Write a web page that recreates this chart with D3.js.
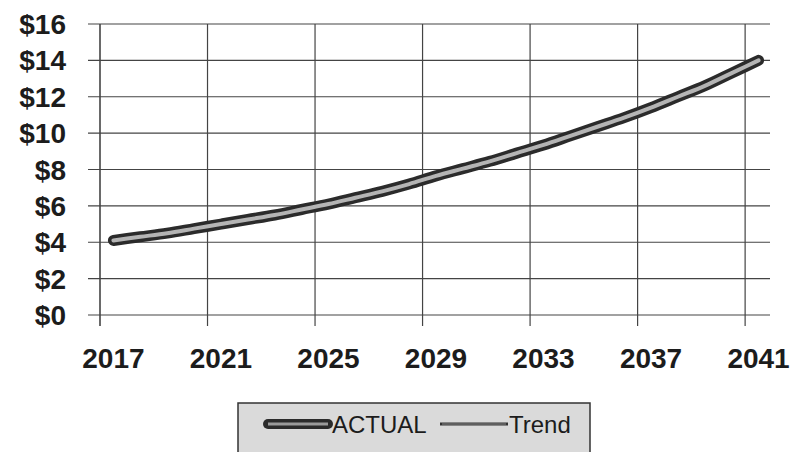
<!DOCTYPE html>
<html>
<head>
<meta charset="utf-8">
<script src="https://cdn.jsdelivr.net/npm/d3@7"></script>
<style>
  html, body { margin: 0; padding: 0; background: #fff; }
  svg { display: block; }
</style>
</head>
<body>
<div id="chart"></div>
<script>
// Données
const annees = d3.range(2017, 2042).map(String);
const valeurs = [4.10, 4.30, 4.50, 4.75, 5.00, 5.25, 5.50, 5.80, 6.10, 6.45,
                 6.80, 7.20, 7.65, 8.05, 8.45, 8.90, 9.35, 9.85, 10.35, 10.85,
                 11.40, 12.00, 12.60, 13.30, 14.00];
const ticksY = [0, 2, 4, 6, 8, 10, 12, 14, 16];
const anneesAffichees = ["2017", "2021", "2025", "2029", "2033", "2037", "2041"];
const series = ["ACTUAL", "Trend"];

const largeur = 792;
const hauteur = 452;
const marge = {haut: 24, droite: 20, bas: 137, gauche: 100};

const svg = d3.select('#chart')
    .append('svg')
    .attr('width', largeur)
    .attr('height', hauteur)
    .style('font-family', '"Liberation Sans", Arial, sans-serif');

// Échelles
const x = d3.scaleBand()
    .domain(annees)
    .range([marge.gauche, 772]);

const y = d3.scaleLinear()
    .domain([0, 16])
    .range([hauteur - marge.bas, marge.haut]); // 315 -> 24

const couleurGrille = "#444";

// Grille horizontale + petites graduations à gauche
svg.append("g")
    .selectAll("line")
    .data(ticksY)
    .enter()
    .append("line")
    .attr("x1", marge.gauche - 12)
    .attr("x2", 770)
    .attr("y1", d => y(d))
    .attr("y2", d => y(d))
    .attr("stroke", couleurGrille)
    .attr("stroke-width", 1.2);

// Grille verticale (au début de chaque 4e catégorie), prolongée sous l'axe
svg.append("g")
    .selectAll("line")
    .data(anneesAffichees)
    .enter()
    .append("line")
    .attr("x1", d => x(d))
    .attr("x2", d => x(d))
    .attr("y1", y(16))
    .attr("y2", y(0) + 11)
    .attr("stroke", couleurGrille)
    .attr("stroke-width", d => d === "2017" ? 1.6 : 1.2);

// Libellés de l'axe Y
svg.append("g")
    .selectAll("text")
    .data(ticksY)
    .enter()
    .append("text")
    .attr("x", 66)
    .attr("y", d => y(d))
    .attr("dy", "0.36em")
    .attr("text-anchor", "end")
    .attr("font-size", 28)
    .attr("font-weight", "bold")
    .attr("fill", "#1c1c1c")
    .text(d => "$" + d);

// Libellés de l'axe X
svg.append("g")
    .selectAll("text")
    .data(anneesAffichees)
    .enter()
    .append("text")
    .attr("x", d => x(d) + x.bandwidth() / 2)
    .attr("y", 368)
    .attr("text-anchor", "middle")
    .attr("font-size", 28)
    .attr("font-weight", "bold")
    .attr("fill", "#1c1c1c")
    .text(d => d);

// Courbe
const ligne = d3.line()
    .x((d, i) => x(annees[i]) + x.bandwidth() / 2)
    .y(d => y(d))
    .curve(d3.curveMonotoneX);

svg.append("path")
    .datum(valeurs)
    .attr("d", ligne)
    .attr("fill", "none")
    .attr("stroke", "#2b2b2b")
    .attr("stroke-width", 11)
    .attr("stroke-linecap", "round")
    .attr("stroke-linejoin", "round");

svg.append("path")
    .datum(valeurs)
    .attr("d", ligne)
    .attr("fill", "none")
    .attr("stroke", "#b4b4b4")
    .attr("stroke-width", 4)
    .attr("stroke-linecap", "round");

// Légende
const legende = svg.append("g");

legende.append("rect")
    .attr("x", 238)
    .attr("y", 403)
    .attr("width", 352)
    .attr("height", 60)
    .attr("fill", "#dadada")
    .attr("stroke", "#333")
    .attr("stroke-width", 1.5);

// ACTUAL
legende.append("line")
    .attr("x1", 268).attr("x2", 328)
    .attr("y1", 424).attr("y2", 424)
    .attr("stroke", "#2b2b2b")
    .attr("stroke-width", 10)
    .attr("stroke-linecap", "round");
legende.append("line")
    .attr("x1", 268).attr("x2", 328)
    .attr("y1", 424).attr("y2", 424)
    .attr("stroke", "#9a9a9a")
    .attr("stroke-width", 3);

// Trend
legende.append("line")
    .attr("x1", 440).attr("x2", 508)
    .attr("y1", 424).attr("y2", 424)
    .attr("stroke", "#333")
    .attr("stroke-width", 3);
legende.append("line")
    .attr("x1", 442).attr("x2", 506)
    .attr("y1", 424).attr("y2", 424)
    .attr("stroke", "#8a8a8a")
    .attr("stroke-width", 1);

legende.selectAll("text")
    .data(series)
    .enter()
    .append("text")
    .attr("x", (d, i) => i === 0 ? 332 : 509)
    .attr("y", 424)
    .attr("dy", "0.36em")
    .attr("font-size", 24)
    .attr("fill", "#1c1c1c")
    .text(d => d);
</script>
</body>
</html>
